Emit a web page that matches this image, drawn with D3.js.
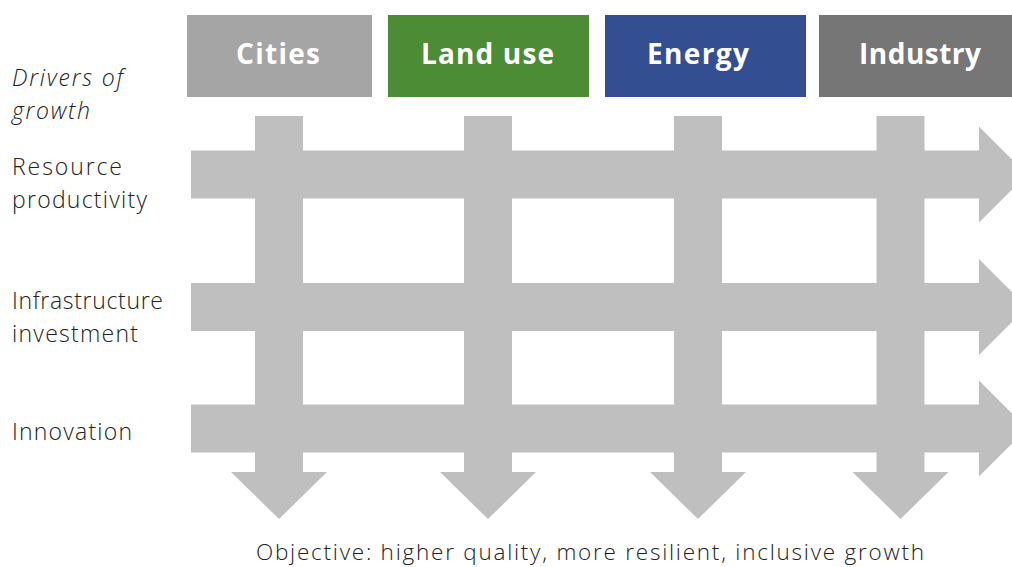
<!DOCTYPE html>
<html>
<head>
<meta charset="utf-8">
<script src="https://cdn.jsdelivr.net/npm/d3@7"></script>
<style>
  html, body { margin: 0; padding: 0; background: #fff; }
  svg { display: block; }
  text { font-variant-ligatures: none; }
</style>
</head>
<body>
<script>
// ---- data ----
const columns = ["Cities", "Land use", "Energy", "Industry"];
const columnColors = ["#a5a5a5", "#4c8c35", "#344f91", "#767676"];
const rowLabels = [["Resource", "productivity"], ["Infrastructure", "investment"], ["Innovation"]];
const sideTitle = ["Drivers of", "growth"];
const objective = "Objective: higher quality, more resilient, inclusive growth";

// ---- layout ----
const W = 1012, H = 567;
const arrowColor = "#bfbfbf";
const shaft = 48;
const headHalf = 48;
const headLen = 48;
const boxX = [[187, 372], [388, 589], [605, 806], [819, 1014]];
const boxY = [15, 97];
const headerTextX = [278, 487.5, 698, 920];
const colX = d3.scaleOrdinal().domain(columns).range([279, 488, 698, 900.5]);
const rowY = d3.scaleOrdinal().domain(d3.range(rowLabels.length)).range([174.5, 307, 428.5]);
const vTop = 116, vHeadY = 472;
const hLeft = 191, hHeadX = 979;
// measured text widths in the reference
const textWidth = {
  "Cities": 84, "Land use": 133, "Energy": 102, "Industry": 122,
  "Drivers of": 111, "growth": 78,
  "Resource": 110, "productivity": 135, "Infrastructure": 151, "investment": 126, "Innovation": 120,
  [objective]: 668
};
const font = "'Open Sans', Lato, sans-serif";

const svg = d3.select("body").append("svg").attr("width", W).attr("height", H);

// fit a text element's letter spacing to the reference width
function fit(sel) {
  sel.each(function (d) {
    const target = textWidth[d];
    if (!target) return;
    const el = d3.select(this);
    const len = this.getComputedTextLength();
    const n = d.length;
    if (n > 1) el.attr("letter-spacing", ((target - len) / (n - 1)).toFixed(3));
  });
}

// header boxes
const hdr = svg.append("g").selectAll("g").data(columns).join("g");
hdr.append("rect")
  .attr("x", (d, i) => boxX[i][0]).attr("y", boxY[0])
  .attr("width", (d, i) => boxX[i][1] - boxX[i][0]).attr("height", boxY[1] - boxY[0])
  .attr("fill", (d, i) => columnColors[i]);
hdr.append("text")
  .attr("x", (d, i) => headerTextX[i])
  .attr("y", 64)
  .attr("fill", "#fff")
  .attr("font-family", font)
  .attr("font-weight", 700)
  .attr("font-size", 28)
  .text(d => d)
  .call(fit)
  .each(function (d, i) {
    d3.select(this).attr("x", headerTextX[i] - textWidth[d] / 2);
  });

// horizontal arrows
const hPath = cy => {
  const p = d3.path();
  p.moveTo(hLeft, cy - shaft / 2);
  p.lineTo(hHeadX, cy - shaft / 2);
  p.lineTo(hHeadX, cy - headHalf);
  p.lineTo(hHeadX + headLen, cy);
  p.lineTo(hHeadX, cy + headHalf);
  p.lineTo(hHeadX, cy + shaft / 2);
  p.lineTo(hLeft, cy + shaft / 2);
  p.closePath();
  return p.toString();
};
svg.append("g").selectAll("path").data(rowLabels).join("path")
  .attr("d", (d, i) => hPath(rowY(i)))
  .attr("fill", arrowColor);

// vertical arrows
const vPath = cx => {
  const p = d3.path();
  p.moveTo(cx - shaft / 2, vTop);
  p.lineTo(cx + shaft / 2, vTop);
  p.lineTo(cx + shaft / 2, vHeadY);
  p.lineTo(cx + headHalf, vHeadY);
  p.lineTo(cx, vHeadY + headLen - 1);
  p.lineTo(cx - headHalf, vHeadY);
  p.lineTo(cx - shaft / 2, vHeadY);
  p.closePath();
  return p.toString();
};
svg.append("g").selectAll("path").data(columns).join("path")
  .attr("d", d => vPath(colX(d)))
  .attr("fill", arrowColor);

// side title
sideTitle.forEach((line, i) => {
  svg.append("text").datum(line)
    .attr("x", 12).attr("y", 86 + i * 33)
    .attr("font-family", font).attr("font-style", "italic").attr("font-weight", 300)
    .attr("font-size", 23).attr("fill", "#222")
    .text(line).call(fit);
});

// row labels
const rowBase = [175, 309, 440];
rowLabels.forEach((lines, r) => {
  lines.forEach((line, i) => {
    svg.append("text").datum(line)
      .attr("x", 12).attr("y", rowBase[r] + i * 32.5)
      .attr("font-family", font).attr("font-weight", 300)
      .attr("font-size", 23).attr("fill", "#222")
      .text(line).call(fit);
  });
});

// bottom objective
svg.append("text").datum(objective)
  .attr("x", 256).attr("y", 560)
  .attr("font-family", font).attr("font-weight", 300)
  .attr("font-size", 22.5).attr("fill", "#222")
  .text(objective).call(fit);
</script>
</body>
</html>
